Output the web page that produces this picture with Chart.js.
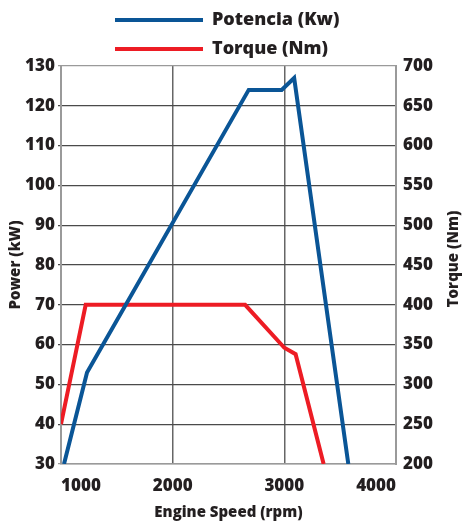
<!DOCTYPE html>
<html><head><meta charset="utf-8">
<script src="https://cdn.jsdelivr.net/npm/chart.js@4.4.0/dist/chart.umd.min.js"></script>
<style>html,body{margin:0;padding:0;background:#fff;}canvas{display:block;}</style>
</head><body>
<canvas id="c" width="463" height="522"></canvas>
<script>
// ---- data ----
const powerRpm  = [1027, 1233, 2681, 2976, 3088, 3573];
const powerKw   = [30, 53, 124, 124, 127, 30];
const torqueRpm = [1000, 1221, 2649, 3000, 3101, 3352];
const torqueNm  = [250, 400, 400, 346, 338, 200];
const rpmTicks    = [1000, 2000, 3000, 4000];
const powerTicks  = [30, 40, 50, 60, 70, 80, 90, 100, 110, 120, 130];
const torqueTicks = [200, 250, 300, 350, 400, 450, 500, 550, 600, 650, 700];
const seriesNames = ['Potencia (Kw)', 'Torque (Nm)'];
const titleX = 'Engine Speed (rpm)';
const titleLeft = 'Power (kW)';
const titleRight = 'Torque (Nm)';

const BLUE = '#0a5596';
const RED = '#ed1c24';
const TXT = '#231f20';
const FONT = '"Open Sans"';
const W = 800;

const legendLayout = {
  id: 'legendLayout',
  beforeInit(chart) {
    const lg = chart.legend;
    const fit = lg.fit;
    lg.fit = function () {
      this.maxWidth = Math.min(this.maxWidth, 300);
      fit.call(this);
      this.height = 66;
      this.lineWidths = this.lineWidths.map(() => 244);
    };
  }
};

const rightTitle = {
  id: 'rightTitle',
  afterDraw(chart) {
    const s = chart.scales.yT;
    const a = chart.chartArea;
    const ctx = chart.ctx;
    ctx.save();
    ctx.translate(s.right - 9, (a.top + a.bottom) / 2 - 6);
    ctx.rotate(-Math.PI / 2);
    ctx.font = W + ' 15px ' + FONT;
    ctx.fillStyle = TXT;
    ctx.textAlign = 'center';
    ctx.textBaseline = 'middle';
    ctx.fillText(titleRight, 0, 0);
    ctx.restore();
  }
};

const borderGray = '#9a9a9a';
const gridDark = '#4a4a4a';
const plain = v => String(v);

new Chart(document.getElementById('c'), {
  type: 'line',
  data: {
    datasets: [
      {
        label: seriesNames[0],
        data: powerRpm.map((x, i) => ({x, y: powerKw[i]})),
        borderColor: BLUE, backgroundColor: BLUE,
        borderWidth: 4, pointRadius: 0, tension: 0, yAxisID: 'yP'
      },
      {
        label: seriesNames[1],
        data: torqueRpm.map((x, i) => ({x, y: torqueNm[i]})),
        borderColor: RED, backgroundColor: RED,
        borderWidth: 4, pointRadius: 0, tension: 0, yAxisID: 'yT'
      }
    ]
  },
  options: {
    responsive: false,
    animation: false,
    devicePixelRatio: 1,
    plugins: {
      tooltip: {enabled: false},
      legend: {
        position: 'top',
        labels: {
          boxWidth: 88, boxHeight: 4, padding: 11,
          color: TXT,
          font: {family: FONT, size: 18, weight: W},
          generateLabels(chart) {
            return Chart.defaults.plugins.legend.labels.generateLabels(chart).map((l, i) => {
              const c = chart.data.datasets[i].borderColor;
              return Object.assign(l, {fillStyle: c, strokeStyle: c, lineWidth: 0});
            });
          }
        }
      }
    },
    scales: {
      x: {
        type: 'linear', min: 1000, max: 4000,
        afterBuildTicks: s => { s.ticks = rpmTicks.map(v => ({value: v})); },
        afterFit: s => { s.height = 58; },
        grid: {
          drawTicks: false, lineWidth: 1.5,
          color: c => (c.tick && (c.tick.value === 1000 || c.tick.value === 4000)) ? borderGray : '#666'
        },
        border: {display: true, color: borderGray, width: 1.5},
        ticks: {
          align: 'inner', padding: 12, color: TXT, maxRotation: 0, callback: plain,
          font: {family: FONT, size: 17, weight: W}
        },
        title: {
          display: true, text: titleX, color: TXT,
          font: {family: FONT, size: 15, weight: W},
          padding: {top: 4, bottom: 0}
        }
      },
      yP: {
        type: 'linear', position: 'left', min: 30, max: 130,
        afterBuildTicks: s => { s.ticks = powerTicks.map(v => ({value: v})); },
        afterFit: s => { s.width = 61; },
        grid: {
          drawTicks: true, tickLength: 3, lineWidth: 1.2,
          color: c => (c.tick && (c.tick.value === 130 || c.tick.value === 30)) ? borderGray : gridDark
        },
        border: {display: true, color: borderGray, width: 2},
        ticks: {
          padding: 3, color: TXT, callback: plain,
          font: {family: FONT, size: 17, weight: W}
        },
        title: {
          display: true, text: titleLeft, color: TXT,
          font: {family: FONT, size: 15, weight: W},
          padding: {top: 7, bottom: 2}
        }
      },
      yT: {
        type: 'linear', position: 'right', min: 200, max: 700,
        afterBuildTicks: s => { s.ticks = torqueTicks.map(v => ({value: v})); },
        afterFit: s => { s.width = 67; },
        grid: {display: false, drawTicks: false},
        border: {display: true, color: borderGray, width: 2},
        ticks: {
          padding: 7, color: TXT, callback: plain,
          font: {family: FONT, size: 17, weight: W}
        },
        title: {display: false}
      }
    }
  },
  plugins: [legendLayout, rightTitle]
});
</script>
</body></html>
